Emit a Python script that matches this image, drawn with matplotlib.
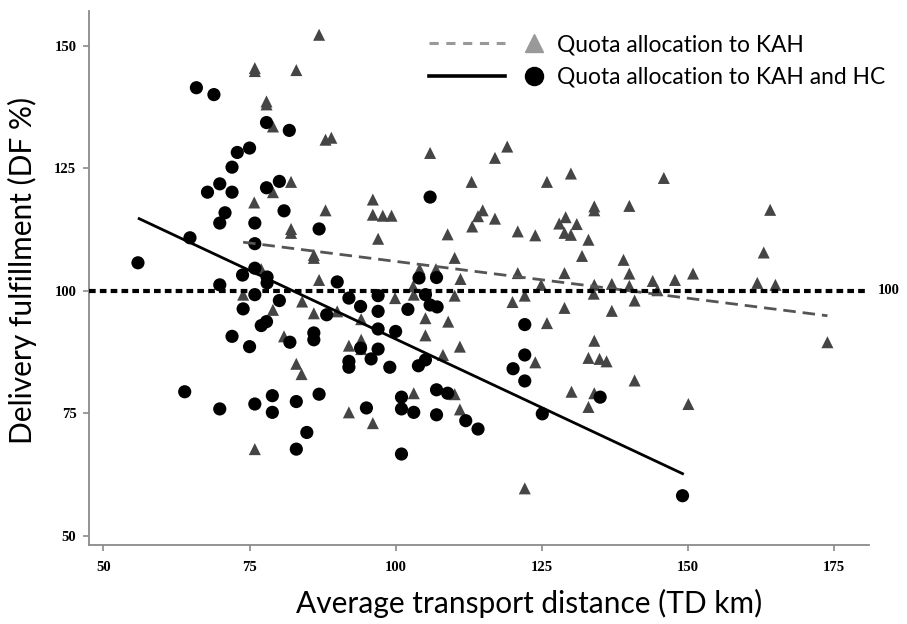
import matplotlib
matplotlib.use("Agg")
import matplotlib.pyplot as plt
from matplotlib.lines import Line2D
from matplotlib.legend_handler import HandlerBase
import matplotlib.transforms as mtransforms

# Data: quota allocation to KAH (triangles)
kah_td = [75.9, 75.9, 83.0, 86.9, 77.9, 77.9, 79.0, 88.0, 89.0, 82.1,
          79.0, 75.8, 82.1, 82.1, 77.0, 88.0, 96.1, 96.1, 97.8, 99.3,
          97.0, 86.0, 86.0, 86.9, 105.9, 113.0, 114.9, 114.1, 113.1, 108.9,
          110.1, 104.1, 106.9, 111.1, 103.0, 103.1, 119.1, 117.0, 130.0, 125.9,
          145.9, 134.0, 134.0, 140.0, 117.0, 129.1, 128.0, 131.0, 128.9, 130.0,
          120.9, 123.9, 133.0, 131.9, 139.0, 140.0, 120.9, 128.9, 144.0, 147.8,
          124.9, 134.0, 137.0, 140.0, 164.1, 163.0, 150.9, 161.9, 165.0, 110.1,
          120.0, 122.1, 133.9, 144.8, 128.9, 137.0, 140.9, 105.1, 109.0, 105.1,
          111.0, 108.1, 125.9, 134.0, 133.0, 134.9, 136.1, 123.9, 140.9, 130.1,
          134.0, 133.0, 150.1, 173.9, 122.1, 103.1, 110.1, 111.0, 99.9, 94.1,
          92.0, 94.1, 94.1, 92.0, 96.1, 73.9, 79.0, 84.0, 86.0, 90.0,
          80.9, 83.0, 83.9, 75.9]
kah_df = [145.4, 144.8, 145.0, 152.2, 138.6, 138.0, 133.5, 130.8, 131.2, 122.2,
          120.1, 118.0, 112.6, 111.8, 104.4, 116.4, 118.6, 115.5, 115.3, 115.3,
          110.6, 107.3, 106.7, 102.2, 128.1, 122.2, 116.4, 115.2, 113.1, 111.5,
          106.7, 104.4, 104.4, 102.4, 100.9, 99.2, 129.4, 127.1, 123.9, 122.2,
          123.0, 117.2, 116.4, 117.3, 114.7, 115.0, 113.7, 113.6, 111.8, 111.4,
          112.1, 111.3, 110.4, 107.1, 106.3, 103.5, 103.6, 103.6, 102.0, 102.2,
          101.2, 101.2, 101.4, 101.0, 116.5, 107.8, 103.5, 101.6, 101.2, 99.0,
          97.7, 99.0, 99.4, 100.1, 96.5, 95.9, 98.0, 94.4, 93.7, 90.9,
          88.6, 86.9, 93.4, 89.8, 86.3, 86.1, 85.6, 85.4, 81.7, 79.4,
          79.1, 76.3, 76.9, 89.5, 59.7, 79.1, 78.9, 75.8, 98.5, 94.2,
          88.8, 90.0, 88.1, 75.2, 73.0, 99.2, 96.1, 97.8, 95.4, 95.8,
          90.7, 85.1, 83.0, 67.7]

# Data: quota allocation to KAH and HC (circles)
hc_td = [55.9, 64.8, 65.9, 68.9, 77.9, 81.8, 75.0, 72.9, 72.0, 69.9,
         67.8, 72.0, 80.1, 77.9, 80.9, 70.8, 69.9, 75.9, 75.9, 75.9,
         73.8, 78.0, 78.0, 69.9, 86.9, 90.0, 105.9, 104.0, 107.0, 75.9,
         80.1, 73.9, 92.0, 94.0, 97.0, 97.0, 102.1, 105.1, 105.9, 107.1,
         88.2, 77.9, 77.0, 72.0, 75.0, 81.9, 86.0, 86.0, 97.0, 100.0,
         97.0, 94.0, 95.8, 92.0, 92.0, 99.0, 103.9, 105.1, 107.0, 108.9,
         101.0, 101.0, 103.1, 107.0, 95.0, 112.0, 114.1, 101.0, 122.1, 122.1,
         120.1, 122.1, 125.1, 135.0, 149.1, 63.9, 69.9, 75.9, 78.9, 78.9,
         83.0, 86.9, 84.8, 83.0]
hc_df = [105.7, 110.8, 141.4, 140.0, 134.3, 132.7, 129.1, 128.2, 125.2, 121.8,
         120.1, 120.1, 122.3, 121.0, 116.3, 115.9, 113.8, 113.8, 109.6, 104.6,
         103.2, 102.8, 101.6, 101.2, 112.6, 101.8, 119.1, 102.6, 102.7, 99.2,
         98.0, 96.3, 98.5, 96.8, 99.0, 95.8, 96.2, 99.2, 97.1, 96.7,
         95.1, 93.7, 92.9, 90.7, 88.6, 89.5, 91.4, 90.0, 92.2, 91.7,
         88.1, 88.3, 86.1, 85.6, 84.4, 84.4, 84.7, 85.9, 79.8, 79.1,
         78.3, 75.9, 75.2, 74.7, 76.1, 73.5, 71.8, 66.7, 93.1, 86.9,
         84.1, 81.6, 74.9, 78.3, 58.2, 79.4, 75.9, 76.9, 78.6, 75.2,
         77.4, 78.9, 71.1, 67.7]

# Fitted trend lines (end points)
fit_kah_td = [73.9, 173.9]
fit_kah_df = [109.9, 94.9]
fit_hc_td = [56.1, 149.1]
fit_hc_df = [114.7, 62.7]

xticks = [50, 75, 100, 125, 150, 175]
yticks = [50, 75, 100, 125, 150]


class LineThenMarker(HandlerBase):
    # legend key: a line segment followed by a separate marker
    def create_artists(self, legend, orig_handle, xdescent, ydescent,
                       width, height, fontsize, trans):
        line_h, mark_h = orig_handle
        y = height / 2 - ydescent
        x0 = -xdescent
        ln = Line2D([x0, x0 + 0.63 * width], [y, y])
        ln.update_from(line_h)
        mk = Line2D([x0 + 0.875 * width], [y])
        mk.update_from(mark_h)
        ln.set_transform(trans)
        mk.set_transform(trans)
        return [ln, mk]


fig = plt.figure(figsize=(9.07, 6.24), dpi=100)
ax = fig.add_axes([0.098, 0.127, 0.86, 0.855])

tri_color = '#454545'
ax.scatter(kah_td, kah_df, marker='^', s=75, color=tri_color, edgecolors='none', zorder=3)
ax.scatter(hc_td, hc_df, marker='o', s=90, color='black', edgecolors='none', zorder=4)

ax.plot(fit_kah_td, fit_kah_df, color='#555555', lw=2, linestyle=(0, (4.5, 2.5)), zorder=5)
ax.plot(fit_hc_td, fit_hc_df, color='black', lw=2, zorder=5)

# reference line at 100 %
ax.axhline(100, color='black', lw=3, linestyle=(0, (1.6, 1.0)), zorder=6)
trans = mtransforms.blended_transform_factory(ax.transAxes, ax.transData)
ax.text(1.012, 100, '100', transform=trans, va='center', ha='left',
        fontsize=10.5, fontweight='bold', family='Liberation Serif')

ax.set_xlim(47.5, 181)
ax.set_ylim(48.2, 157)
ax.set_xticks(xticks)
ax.set_yticks(yticks)
for lab in ax.get_xticklabels() + ax.get_yticklabels():
    lab.set_family('Liberation Serif')
    lab.set_fontweight('bold')
    lab.set_fontsize(10.5)

for side in ['top', 'right']:
    ax.spines[side].set_visible(False)
for side in ['left', 'bottom']:
    ax.spines[side].set_color('#8a8a8a')
    ax.spines[side].set_linewidth(1.3)
ax.tick_params(color='#8a8a8a', length=4, width=1.2)
ax.tick_params(axis='x', pad=8)
ax.tick_params(axis='y', pad=5)

ax.set_xlabel('Average transport distance (TD km)', family='Lato', fontsize=21.5)
ax.xaxis.set_label_coords(0.565, -0.083)
ax.set_ylabel('Delivery fulfillment (DF %)', family='Lato', fontsize=21.5)
ax.yaxis.set_label_coords(-0.066, 0.515)

# legend: line + marker side by side
h1 = (Line2D([], [], color='#999999', lw=2.2, linestyle=(0, (3, 2.5))),
      Line2D([], [], marker='^', color='#999999', ms=13, linestyle='none'))
h2 = (Line2D([], [], color='black', lw=2.6),
      Line2D([], [], marker='o', color='black', ms=13, linestyle='none'))
ax.legend([h1, h2], ['Quota allocation to KAH', 'Quota allocation to KAH and HC'],
          handler_map={tuple: LineThenMarker()},
          loc='upper left', bbox_to_anchor=(0.41, 0.995), frameon=False,
          prop={'family': 'Lato', 'size': 16.4}, handlelength=5.26,
          handletextpad=0.35, labelspacing=0.5)

fig.savefig('out.png', dpi=100)
